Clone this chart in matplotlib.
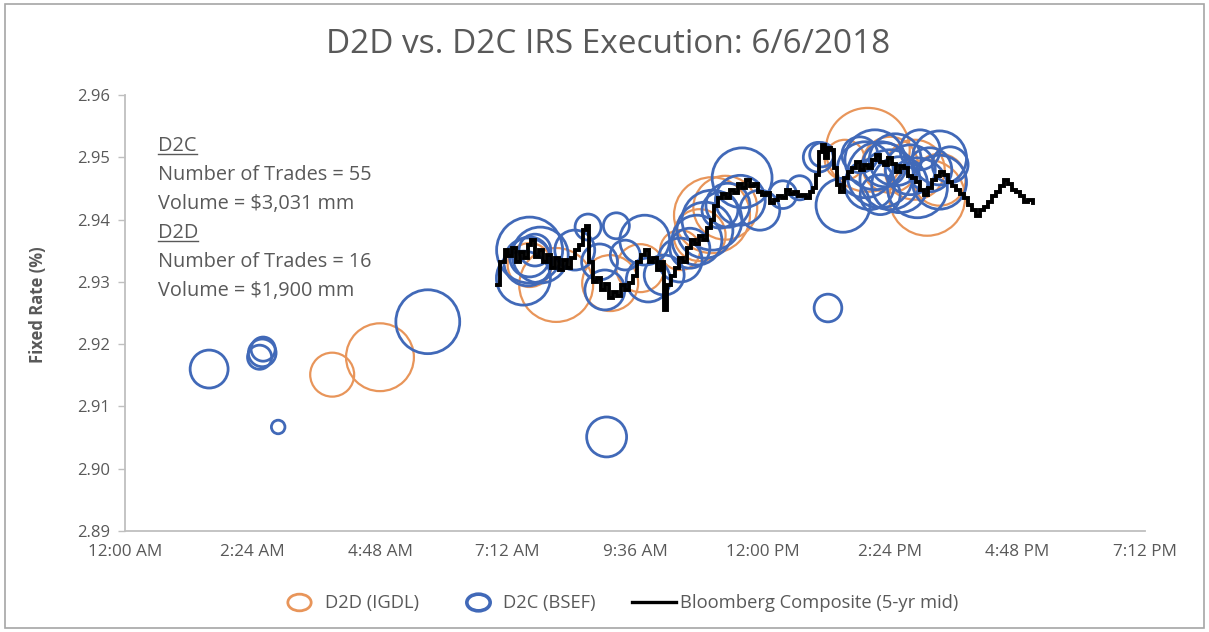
import matplotlib
matplotlib.use("Agg")
import matplotlib.pyplot as plt
from matplotlib.markers import MarkerStyle
from matplotlib.transforms import Affine2D
from matplotlib.lines import Line2D
from matplotlib.patches import Rectangle

# ---------------- data ----------------
x_tick_minutes = [0, 144, 288, 432, 576, 720, 864, 1008, 1152]
x_tick_labels = ["12:00 AM", "2:24 AM", "4:48 AM", "7:12 AM", "9:36 AM",
                 "12:00 PM", "2:24 PM", "4:48 PM", "7:12 PM"]
y_ticks = [2.89, 2.90, 2.91, 2.92, 2.93, 2.94, 2.95, 2.96]

# D2D (IGDL) trades: time (minutes after midnight), fixed rate (%), notional ($mm)
d2d_time = [234, 288, 487, 548, 663, 678, 649, 839, 906, 892, 457, 582, 627, 864, 920, 813]
d2d_rate = [2.9151, 2.9179, 2.9295, 2.9298, 2.9407, 2.9419, 2.9375, 2.9512,
            2.9435, 2.9480, 2.9327, 2.9322, 2.9351, 2.9488, 2.9464, 2.9496]
d2d_vol = [63, 150, 178, 102, 188, 133, 88, 229, 188, 117, 63, 75, 52, 102, 88, 52]

# D2C (BSEF) trades
d2c_time = [95, 155, 156, 152, 173, 342, 544, 794,
            457, 450, 457, 463, 455, 469, 523, 555, 508, 536, 542, 587, 591, 565,
            627, 638, 646, 655, 663, 672, 681, 697, 695, 717, 743, 762, 787, 609,
            783, 811, 836, 847, 853, 841, 858, 864, 870, 875, 887, 895, 920, 920,
            909, 853, 830, 898, 932]
d2c_rate = [2.9160, 2.9186, 2.9192, 2.9179, 2.9067, 2.9236, 2.9051, 2.9258,
            2.9351, 2.9306, 2.9340, 2.9351, 2.9332, 2.9343, 2.9388, 2.9390, 2.9351,
            2.9332, 2.9287, 2.9367, 2.9303, 2.9343,
            2.9335, 2.9354, 2.9367, 2.9383, 2.9399, 2.9415, 2.9423, 2.9467, 2.9431,
            2.9415, 2.9440, 2.9451, 2.9504, 2.9311,
            2.9500, 2.9423, 2.9480, 2.9496, 2.9472, 2.9456, 2.9488, 2.9464, 2.9496,
            2.9456, 2.9480, 2.9451, 2.9499, 2.9460, 2.9480, 2.9440, 2.9504, 2.9512,
            2.9488]
d2c_vol = [47, 25, 19, 19, 6, 133, 52, 25,
           142, 95, 52, 33, 75, 102, 22, 22, 52, 42, 52, 81, 63, 29,
           63, 52, 81, 102, 117, 42, 63, 117, 81, 52, 25, 19, 19, 52,
           29, 95, 102, 117, 142, 81, 63, 117, 88, 102, 81, 117, 95, 95,
           63, 52, 42, 52, 42]

# Bloomberg Composite (5-yr mid)
bbg_time = [420, 424, 429, 433, 437, 442, 446, 451, 455, 459, 463, 468, 472, 477,
            481, 486, 490, 495, 499, 504, 508, 513, 517, 521, 524, 529, 533, 538,
            542, 547, 551, 556, 560, 565, 569, 574, 578, 583, 587, 592, 596, 601,
            605, 609, 612, 617, 621, 626, 630, 635, 639, 644, 648, 653, 657, 662,
            665, 670, 674, 679, 683, 688, 692, 697, 701, 706, 710, 715, 719, 724,
            728, 733, 737, 742, 747, 751, 756, 760, 765, 769, 774, 777, 780, 784,
            787, 791, 794, 797, 801, 804, 808, 812, 817, 821, 826, 830, 835, 839,
            844, 848, 853, 857, 862, 866, 871, 875, 880, 884, 889, 893, 898, 902,
            907, 911, 916, 920, 925, 930, 934, 939, 943, 948, 952, 957, 961, 966,
            970, 975, 979, 984, 988, 993, 997, 1002, 1006, 1011, 1015, 1020, 1026]
bbg_rate = [2.9295, 2.9332, 2.9351, 2.9342, 2.9354, 2.9332, 2.9348, 2.9338, 2.9359,
            2.9367, 2.9340, 2.9351, 2.9332, 2.9343, 2.9322, 2.9338, 2.9319, 2.9335,
            2.9322, 2.9338, 2.9351, 2.9359, 2.9383, 2.9390, 2.9332, 2.9300, 2.9306,
            2.9287, 2.9297, 2.9274, 2.9284, 2.9277, 2.9295, 2.9287, 2.9298, 2.9310,
            2.9332, 2.9343, 2.9351, 2.9332, 2.9338, 2.9319, 2.9332, 2.9255, 2.9295,
            2.9310, 2.9322, 2.9338, 2.9332, 2.9354, 2.9367, 2.9361, 2.9374, 2.9367,
            2.9387, 2.9399, 2.9422, 2.9435, 2.9441, 2.9435, 2.9448, 2.9443, 2.9457,
            2.9451, 2.9464, 2.9454, 2.9457, 2.9444, 2.9440, 2.9443, 2.9427, 2.9431,
            2.9438, 2.9435, 2.9448, 2.9441, 2.9444, 2.9438, 2.9440, 2.9435, 2.9444,
            2.9451, 2.9472, 2.9509, 2.9520, 2.9499, 2.9515, 2.9512, 2.9483, 2.9456,
            2.9444, 2.9467, 2.9476, 2.9483, 2.9492, 2.9480, 2.9488, 2.9483, 2.9496,
            2.9504, 2.9492, 2.9488, 2.9499, 2.9489, 2.9476, 2.9486, 2.9483, 2.9470,
            2.9467, 2.9460, 2.9448, 2.9440, 2.9451, 2.9464, 2.9470, 2.9476, 2.9472,
            2.9460, 2.9454, 2.9448, 2.9441, 2.9435, 2.9423, 2.9415, 2.9406, 2.9415,
            2.9420, 2.9428, 2.9438, 2.9444, 2.9454, 2.9464, 2.9457, 2.9448, 2.9444,
            2.9438, 2.9428, 2.9431, 2.9427]

stats_lines = ["D2C", "Number of Trades = 55", "Volume = $3,031 mm",
               "D2D", "Number of Trades = 16", "Volume = $1,900 mm"]

# ---------------- style ----------------
FONT = ["Open Sans", "DejaVu Sans"]
plt.rcParams["font.family"] = FONT
GRAY = "#595959"
ORANGE = "#E8955A"
BLUE = "#4169B8"
SIZE_SCALE = 15.9  # marker area (pt^2) per $mm

fig = plt.figure(figsize=(12.09, 6.32), dpi=100)
ax = fig.add_axes([0.1034, 0.1598, 0.8436, 0.6899])

ax.scatter(d2d_time, d2d_rate, s=[v * SIZE_SCALE for v in d2d_vol],
           facecolors="none", edgecolors=ORANGE, linewidths=1.6, zorder=2)
ax.scatter(d2c_time, d2c_rate, s=[v * SIZE_SCALE for v in d2c_vol],
           facecolors="none", edgecolors=BLUE, linewidths=2.0, zorder=3)
ax.plot(bbg_time, bbg_rate, color="black", lw=2.8, zorder=4,
        drawstyle="steps-post", solid_joinstyle="miter")

ax.set_xlim(x_tick_minutes[0], x_tick_minutes[-1])
ax.set_ylim(y_ticks[0], y_ticks[-1])
ax.set_xticks(x_tick_minutes)
ax.set_xticklabels(x_tick_labels)
ax.set_yticks(y_ticks)
ax.set_yticklabels([f"{v:.2f}" for v in y_ticks])
ax.tick_params(axis="x", length=0, pad=9, labelsize=12.3, labelcolor=GRAY)
ax.tick_params(axis="y", length=5, width=1, color="#BFBFBF", pad=6,
               labelsize=12, labelcolor=GRAY)
for side in ["top", "right"]:
    ax.spines[side].set_visible(False)
for side in ["left", "bottom"]:
    ax.spines[side].set_color("#BFBFBF")
    ax.spines[side].set_linewidth(1.3)

ax.set_ylabel("Fixed Rate (%)", fontsize=12, fontweight="bold", color=GRAY)
ax.yaxis.set_label_coords(-0.076, 0.518)

fig.text(0.503, 0.929, "D2D vs. D2C IRS Execution: 6/6/2018", ha="center",
         va="center", fontsize=24, color=GRAY)

# stats text block
texts = []
y0 = 146
for i, line in enumerate(stats_lines):
    t = fig.text(158 / 1209, 1 - (y0 + 29 * i) / 632, line, ha="left",
                 va="center", fontsize=14.3, color=GRAY)
    texts.append(t)

# legend
ell = MarkerStyle("o", transform=Affine2D().scale(1.4, 1.0))
handles = [
    Line2D([], [], ls="none", marker=ell, markersize=12, markerfacecolor="none",
           markeredgecolor=ORANGE, markeredgewidth=2.0),
    Line2D([], [], ls="none", marker=ell, markersize=12, markerfacecolor="none",
           markeredgecolor=BLUE, markeredgewidth=2.6),
    Line2D([], [], color="black", lw=2.4),
]
labels = ["D2D (IGDL)", "D2C (BSEF)", "Bloomberg Composite (5-yr mid)"]
fig.legend(handles, labels, loc="center", bbox_to_anchor=(0.511, 0.046),
           ncol=3, frameon=False, fontsize=13.2, labelcolor=GRAY,
           handlelength=2.4, handletextpad=0.2, columnspacing=2.0)

# outer border
fig.patches.append(Rectangle((0.004, 0.006), 0.992, 0.988, transform=fig.transFigure,
                             fill=False, edgecolor="#A6A6A6", lw=1.2))

# underline D2C / D2D headers
fig.canvas.draw()
renderer = fig.canvas.get_renderer()
for idx in (0, 3):
    bb = texts[idx].get_window_extent(renderer)
    yline = (bb.y0 + 2) / fig.bbox.height
    fig.add_artist(Line2D([bb.x0 / fig.bbox.width, bb.x1 / fig.bbox.width],
                          [yline, yline], transform=fig.transFigure,
                          color=GRAY, lw=1.0))

fig.savefig("out.png", dpi=100)
